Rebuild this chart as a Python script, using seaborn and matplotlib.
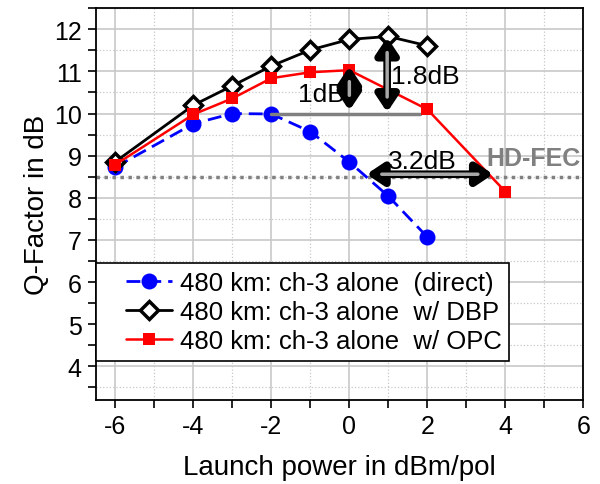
import matplotlib
matplotlib.use("Agg")
import matplotlib.pyplot as plt
from matplotlib.lines import Line2D
from matplotlib.legend_handler import HandlerLine2D
import pandas as pd
import seaborn as sns

# launch power in dBm/pol
x_direct = [-6, -4, -3, -2, -1, 0, 1, 2]
q_direct = [8.73, 9.76, 10.0, 9.99, 9.57, 8.85, 8.04, 7.07]

x_dbp = [-6, -4, -3, -2, -1, 0, 1, 2]
q_dbp = [8.86, 10.2, 10.66, 11.13, 11.51, 11.76, 11.83, 11.61]

x_opc = [-6, -4, -3, -2, -1, 0, 2, 4]
q_opc = [8.79, 9.98, 10.36, 10.84, 10.98, 11.03, 10.1, 8.15]

labels = ["480 km: ch-3 alone  (direct)",
          "480 km: ch-3 alone  w/ DBP",
          "480 km: ch-3 alone  w/ OPC"]

hd_fec = 8.5

sns.set_style("white")
plt.rcParams['font.family'] = ['Liberation Sans', 'DejaVu Sans']
plt.rcParams['axes.unicode_minus'] = False
plt.rcParams['text.color'] = 'black'
plt.rcParams['axes.labelcolor'] = 'black'
plt.rcParams['xtick.color'] = 'black'
plt.rcParams['ytick.color'] = 'black'

fig = plt.figure(figsize=(6, 4.85), dpi=100)
ax = fig.add_axes([0.16, 0.173, 0.812, 0.808])

df_direct = pd.DataFrame({"x": x_direct, "q": q_direct})
df_dbp = pd.DataFrame({"x": x_dbp, "q": q_dbp})
df_opc = pd.DataFrame({"x": x_opc, "q": q_opc})

sns.lineplot(data=df_direct, x="x", y="q", ax=ax, color="blue", lw=2,
             linestyle=(0, (5, 2.5)), marker="o", markersize=11.5,
             markeredgewidth=0, label=labels[0], zorder=3)
sns.lineplot(data=df_dbp, x="x", y="q", ax=ax, color="black", lw=2,
             marker="D", markersize=9.5, markerfacecolor="white",
             markeredgecolor="black", markeredgewidth=2.5,
             label=labels[1], zorder=4)
sns.lineplot(data=df_opc, x="x", y="q", ax=ax, color="red", lw=1.8,
             marker="s", markersize=8.5, markeredgewidth=0,
             label=labels[2], zorder=5)

# HD-FEC threshold
ax.axhline(hd_fec, color="#808080", lw=2.5, linestyle=(0, (1, 1.3)), zorder=2)
ax.text(4.72, 8.95, "HD-FEC", color="#808080", fontsize=18,
        fontweight="bold", ha="center", va="center", zorder=6)

# reference line at Q = 10
ax.plot([-2, 1.8], [10, 10], color="#808080", lw=2.5, zorder=3.5)


def fat_arrow(p0, p1):
    ax.annotate("", xy=p1, xytext=p0,
                arrowprops=dict(arrowstyle="<|-|>,head_length=0.75,head_width=0.5",
                                color="black", lw=5.5, shrinkA=0, shrinkB=0,
                                mutation_scale=13),
                zorder=7)
    ax.annotate("", xy=p1, xytext=p0,
                arrowprops=dict(arrowstyle="-", color="#a8a8a8", lw=2.5,
                                shrinkA=11, shrinkB=11),
                zorder=8)


fat_arrow((0, 10.07), (0, 11.12))
fat_arrow((0.97, 10.03), (0.97, 11.81))
fat_arrow((0.44, 8.56), (3.69, 8.56))

ax.text(-0.72, 10.46, "1dB", fontsize=19, ha="center", va="center", zorder=6)
ax.text(1.95, 10.9, "1.8dB", fontsize=19, ha="center", va="center", zorder=9)
ax.text(1.87, 8.88, "3.2dB", fontsize=19, ha="center", va="center", zorder=9)

ax.set_xlim(-6.5, 6)
ax.set_ylim(3.2, 12.5)
ax.set_xticks(range(-6, 7, 2))
ax.set_xticks(range(-5, 6, 2), minor=True)
ax.set_yticks(range(4, 13))
ax.set_yticks([v + 0.5 for v in range(3, 13)], minor=True)
ax.grid(which="major", color="#c8c8c8", lw=1.2, linestyle="-")
ax.grid(which="minor", color="#c8c8c8", lw=0.9, linestyle=":")
ax.set_axisbelow(True)
ax.tick_params(which="both", direction="out", length=5.8, width=1.2,
               labelsize=18, left=True, bottom=True, pad=4.5)
for s in ax.spines.values():
    s.set_color("black")
    s.set_linewidth(1.3)

ax.set_xlabel("Launch power in dBm/pol", fontsize=20, labelpad=11)
ax.set_ylabel("Q-Factor in dB", fontsize=20, labelpad=3)

leg = ax.legend(loc="lower left", bbox_to_anchor=(0, 0.0995), borderaxespad=0,
                fontsize=18.5, frameon=True, fancybox=False, framealpha=1,
                edgecolor="black", handlelength=2.65, handletextpad=0.3,
                labelspacing=0.2, borderpad=0.3,
                handler_map={Line2D: HandlerLine2D(xpad=0.85)})
leg.get_frame().set_linewidth(1.2)
leg.set_zorder(10)

fig.savefig("out.png", dpi=100)
